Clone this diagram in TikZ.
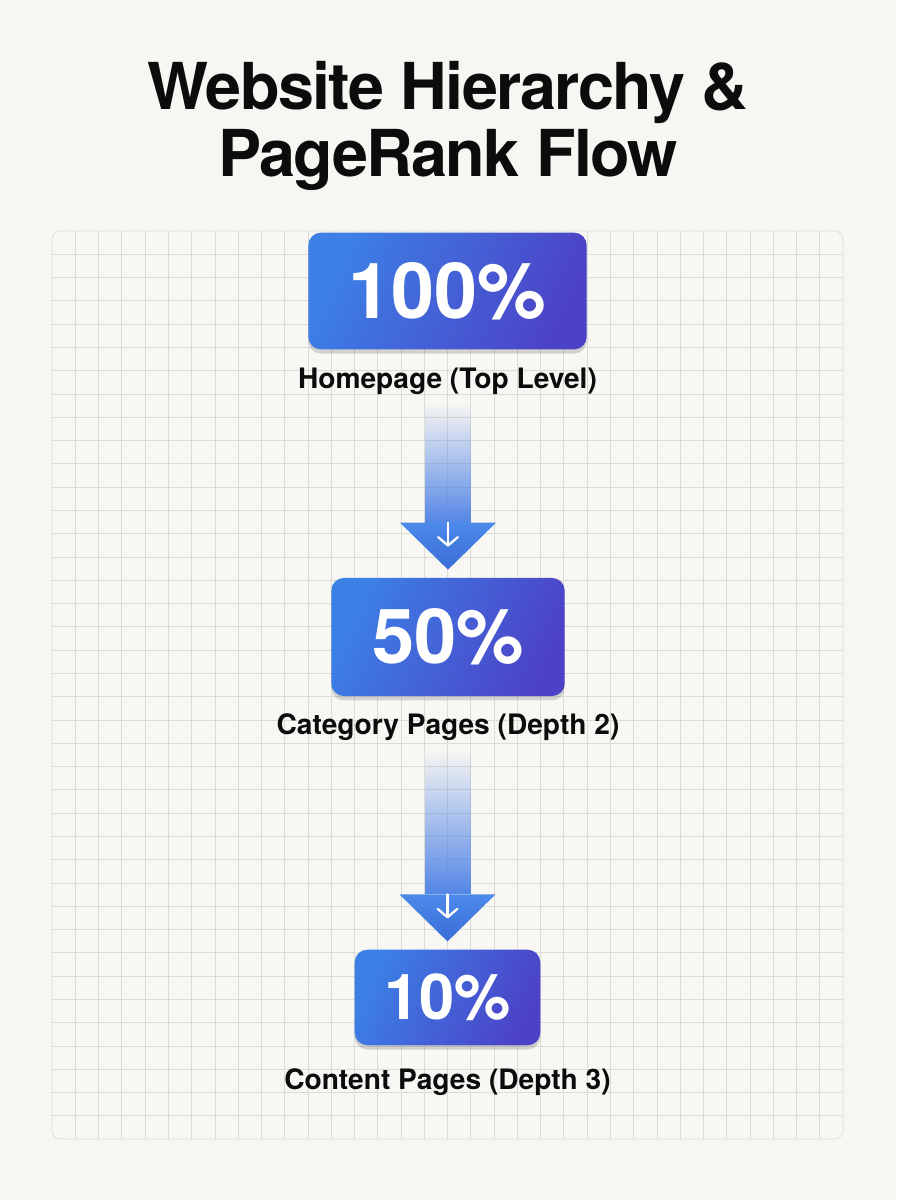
\documentclass[tikz,border=0pt]{standalone}
\usepackage{fontspec}
\setmainfont{TeX Gyre Heros}
\newfontfamily\titlefont{TeX Gyre Heros}[LetterSpace=-2.5]
\usetikzlibrary{positioning,calc,fadings,shadows,arrows.meta}
\definecolor{paper}{RGB}{247,246,242}
\definecolor{panelfill}{RGB}{248,247,243}
\definecolor{gridgray}{RGB}{220,220,215}
\definecolor{boxleft}{RGB}{60,128,230}
\definecolor{boxright}{RGB}{76,66,198}
\definecolor{shaftblue}{RGB}{84,134,230}
\definecolor{headtop}{RGB}{76,138,234}
\definecolor{headbottom}{RGB}{58,108,216}
\definecolor{ink}{RGB}{12,12,12}
\tikzset{
    rankbox/.style={rounded corners=9pt, left color=boxleft, right color=boxright,
        shading angle=65, text=white, inner sep=0pt,
        drop shadow={shadow xshift=0pt, shadow yshift=-3pt, opacity=0.15, fill=black}},
    caption/.style={inner sep=0pt, text=ink, font=\fontsize{20}{24}\selectfont\bfseries},
    gridline/.style={draw=gridgray, line width=0.5pt}
}
\newcommand{\flowarrow}[2]{%
    \fill[shaftblue, path fading=north] ($(#1.south)+(-23,8)$) rectangle ($(#2.north)+(23,-55)$);
    \shade[top color=headtop, bottom color=headbottom] ($(#2.north)+(-48,-55)$) -- ($(#2.north)+(48,-55)$) -- ($(#2.north)+(0,-8)$) -- cycle;
    \draw[white, line width=1.6pt, line cap=round, -{Straight Barb[length=6pt,width=14pt,round]}] ($(#2.north)+(0,-55)$) -- ($(#2.north)+(0,-31)$);
}

\begin{document}
\begin{tikzpicture}[x=0.025cm, y=-0.025cm]
\tikzstyle{title}=[inner sep=0pt, anchor=base, text=ink, font=\fontsize{46}{50}\titlefont\bfseries]

\fill[paper] (0,0) rectangle (896,1200);
\useasboundingbox (0,0) rectangle (896,1200);

\fill[panelfill, rounded corners=6pt] (52,231) rectangle (843,1139);
\begin{scope}
    \clip[rounded corners=6pt] (52,231) rectangle (843,1139);
    \foreach \i in {1,...,33}
        \draw[gridline] ({52+\i*23.265},231) -- ++(0,908);
    \foreach \j in {1,...,38}
        \draw[gridline] (52,{231+\j*23.282}) -- ++(791,0);
\end{scope}
\draw[gridline, rounded corners=6pt] (52,231) rectangle (843,1139);

\node[title] (title1) at (448,110) {Website Hierarchy \&};
\node[title] (title2) at (448,177) {PageRank Flow};

\node[rankbox, minimum width=198pt, minimum height=83pt,
      font=\fontsize{55}{60}\selectfont\bfseries] (home) at (447.5,291) {100\%};
\node[caption, below=13pt of home] (homecap) {Homepage (Top Level)};

\node[rankbox, minimum width=166pt, minimum height=84pt,
      font=\fontsize{54}{60}\selectfont\bfseries] (category) at (448,637) {50\%};
\node[caption, below=12pt of category] (categorycap) {Category Pages (Depth 2)};

\node[rankbox, minimum width=132pt, minimum height=68pt,
      font=\fontsize{45}{50}\selectfont\bfseries] (content) at (447.5,997.5) {10\%};
\node[caption, below=16pt of content] (contentcap) {Content Pages (Depth 3)};

\flowarrow{homecap}{category}
\flowarrow{categorycap}{content}
\end{tikzpicture}
\end{document}
